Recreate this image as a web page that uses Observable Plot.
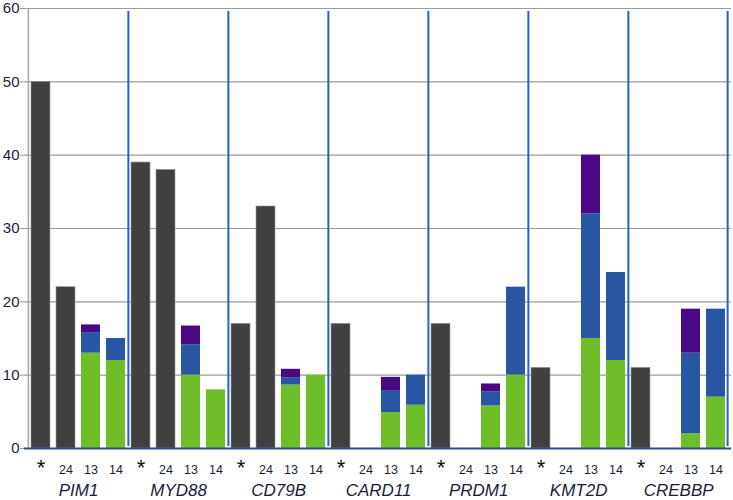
<!DOCTYPE html>
<html><head><meta charset="utf-8">
<script src="https://cdn.jsdelivr.net/npm/d3@7"></script>
<script src="https://cdn.jsdelivr.net/npm/@observablehq/plot@0.6"></script>
<style>body{margin:0;background:#fff}</style>
</head><body><div id="chart"></div>
<script>
const genes = ["PIM1","MYD88","CD79B","CARD11","PRDM1","KMT2D","CREBBP"];
const conds = ["*","24","13","14"];
const yTicks = [0,10,20,30,40,50,60];
// gray bars
const starVals = [50,39,17,17,17,11,11];
const c24Vals = [22,38,33,0,0,0,0];
// stacked segments (sizes) for conditions 13 and 14
const green13 = [13,10,8.65,4.9,5.8,15,2];
const blue13 = [2.8,4.15,0.95,3.0,1.95,17,11];
const purple13 = [1.05,2.55,1.2,1.8,1.05,8,6];
const green14 = [12,8,10,5.9,10,12,7];
const blue14 = [3,0,0,4.1,12,12,12];
const purple14 = [0,0,0,0,0,0,0];

const parts = ["seg1","seg2","seg3"];
const partColors = ["#6ebe2a","#2757a2","#4a0786"];

const W = 733, H = 500, ML = 24, MR = 2, MT = 8, MB = 52;
const key = (g,c) => g + "|" + c;
const domain = genes.flatMap(g => conds.map(c => key(g,c)));
const step = (W - ML - MR) / domain.length;

const gray = genes.flatMap((g,i) => [
  {k:key(g,"*"), v:starVals[i]},
  {k:key(g,"24"), v:c24Vals[i]}
]);
const stacked = genes.flatMap((g,i) => [
  {k:key(g,"13"), part:"seg1", v:green13[i]},
  {k:key(g,"13"), part:"seg2", v:blue13[i]},
  {k:key(g,"13"), part:"seg3", v:purple13[i]},
  {k:key(g,"14"), part:"seg1", v:green14[i]},
  {k:key(g,"14"), part:"seg2", v:blue14[i]},
  {k:key(g,"14"), part:"seg3", v:purple14[i]}
]);
const labels = domain.map(k => ({k, c:k.split("|")[1]}));
const starLabels = labels.filter(d => d.c === "*");
const numLabels = labels.filter(d => d.c !== "*");

const chart = Plot.plot({
  width: W, height: H, marginLeft: ML, marginRight: MR, marginTop: MT, marginBottom: MB,
  style: {fontFamily: "'Liberation Sans', Arial, sans-serif", background: "#fff", overflow: "visible"},
  x: {type: "band", domain, paddingInner: 0.25, paddingOuter: 0.125, axis: null},
  y: {domain: [0,60], axis: null},
  color: {type: "ordinal", domain: parts, range: partColors},
  marks: [
    Plot.gridY(yTicks, {stroke: "#9a9a9a", strokeOpacity: 1, strokeWidth: 1.2}),
    Plot.axisY(yTicks, {tickSize: 4, tickPadding: 1, fontSize: 15, fill: "#1c1c3a", stroke: "#9a9a9a", label: null}),
    Plot.barY(gray, {x: "k", y: "v", fill: "#404040", stroke: "#9a9a9a", strokeWidth: 0.6}),
    Plot.barY(stacked, Plot.stackY({order: parts}, {x: "k", y: "v", fill: "part"})),
    // left axis line
    Plot.ruleX([key(genes[0],"*")], {y1: 0, y2: 60, dx: -step/2, stroke: "#a8a8a8", strokeWidth: 1.5}),
    // separators between gene groups
    Plot.ruleX(genes.slice(1).map(g => key(g,"*")), {y1: 0, y2: 60, dx: -step/2, stroke: "#2a63bf", strokeWidth: 2, insetTop: -2, insetBottom: -3}),
    Plot.ruleX([key(genes[genes.length-1],"14")], {y1: 0, y2: 60, dx: step/2 - 1, stroke: "#2a63bf", strokeWidth: 2, insetTop: -2, insetBottom: -3}),
    Plot.ruleY([0], {stroke: "#2b4f8e", strokeWidth: 2}),
    Plot.text(starLabels, {x: "k", y: 0, text: "c", dy: 19, fontSize: 22, fill: "#111"}),
    Plot.text(numLabels, {x: "k", y: 0, text: "c", dy: 21, fontSize: 12.5, fill: "#1c1c3a"}),
    Plot.text(genes, {x: g => key(g,"24"), y: 0, text: d => d, dx: step/2, dy: 42, fontSize: 17, fontStyle: "italic", fill: "#1c1c3a"})
  ]
});
document.getElementById("chart").appendChild(chart);
</script>
</body></html>
